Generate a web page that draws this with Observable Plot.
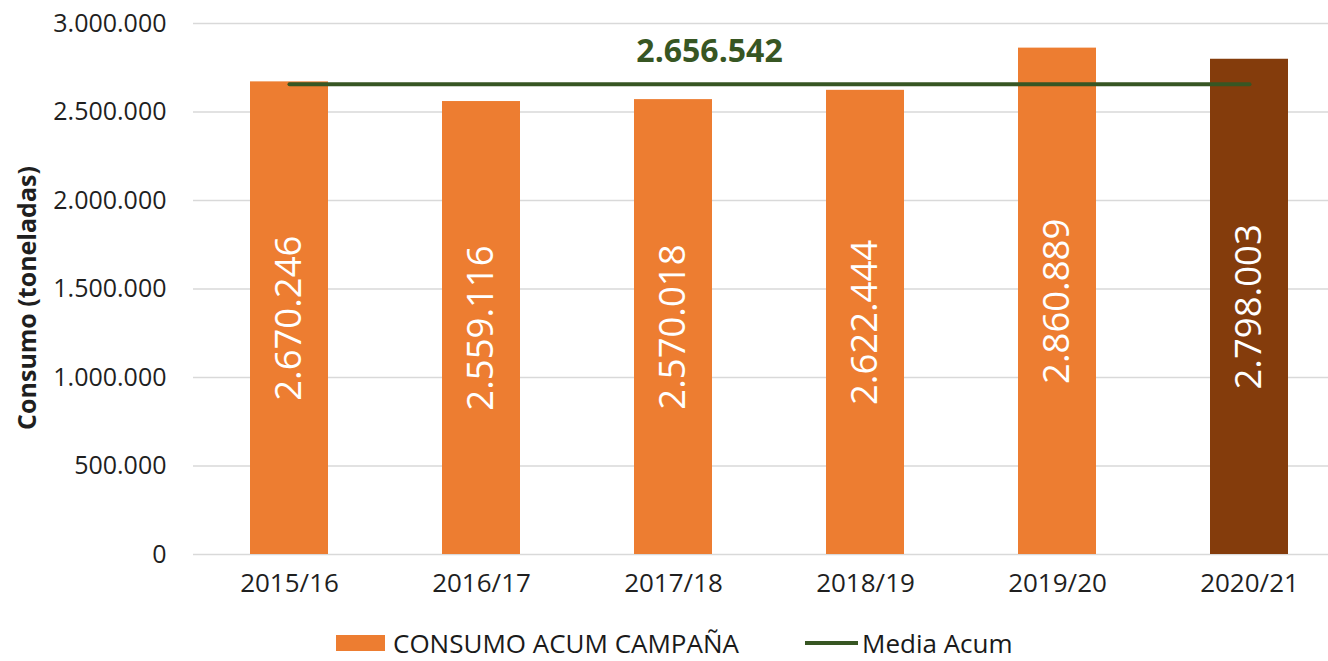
<!DOCTYPE html>
<html>
<head>
<meta charset="utf-8">
<script src="https://cdn.jsdelivr.net/npm/d3@7"></script>
<script src="https://cdn.jsdelivr.net/npm/@observablehq/plot@0.6"></script>
<style>
  html, body { margin: 0; padding: 0; background: #fff; width: 1328px; }
  #chart { position: relative; width: 1328px; overflow: hidden; }
  #chart svg { display: block; max-width: none !important; }
  #legend { position: relative; height: 46px; font-family: "Open Sans", sans-serif; font-size: 26px; line-height: 26px; color: #1a1a1a; }
  .li { position: absolute; display: flex; align-items: center; top: 15px; height: 26px; white-space: nowrap; }
</style>
</head>
<body>
<div id="chart"></div>
<div id="legend"></div>
<script>
const categories = ["2015/16", "2016/17", "2017/18", "2018/19", "2019/20", "2020/21"];
const consumo = [2670246, 2559116, 2570018, 2622444, 2860889, 2798003];
const media = 2656542;
const yTicks = [0, 500000, 1000000, 1500000, 2000000, 2500000, 3000000];
const seriesNames = ["CONSUMO ACUM CAMPAÑA", "Media Acum"];
const barColor = "#ED7D31";
const lastBarColor = "#843C0C";
const lineColor = "#375623";

const loc = d3.formatLocale({decimal: ",", thousands: ".", grouping: [3], currency: ["", "€"]});
const fmt = loc.format(",d");

const data = categories.map((c, i) => ({cat: c, v: consumo[i], last: i === categories.length - 1}));
const mediaData = categories.map(c => ({cat: c, v: media}));

const chart = Plot.plot({
  width: 1345,
  height: 615,
  marginLeft: 193,
  marginRight: 0,
  marginTop: 23,
  marginBottom: 61,
  style: {fontFamily: "Open Sans, sans-serif", fontSize: "25px", color: "#1f1f1f", background: "#fff"},
  x: {domain: categories, paddingInner: 0.594, paddingOuter: 0.297, label: null, tickSize: 0, tickPadding: 19},
  y: {domain: [0, 3000000], ticks: yTicks, tickFormat: d => fmt(d), tickSize: 0, tickPadding: 27,
      label: "Consumo (toneladas)", labelAnchor: "center", labelOffset: 175, labelArrow: "none"},
  marks: [
    Plot.gridY(yTicks, {stroke: "#d9d9d9", strokeOpacity: 1, strokeWidth: 1.5}),
    Plot.barY(data, {x: "cat", y: "v", fill: d => d.last ? lastBarColor : barColor}),
    Plot.text(data, {x: "cat", y: d => d.v / 2, text: d => fmt(d.v), rotate: -90, fill: "white", fontSize: 36.5}),
    Plot.lineY(mediaData, {x: "cat", y: "v", stroke: lineColor, strokeWidth: 4}),
    Plot.text([media], {x: () => categories[2], y: d => d, text: d => fmt(d), dx: 36, dy: -33, fill: lineColor, fontWeight: "bold", fontSize: 32})
  ]
});
document.getElementById("chart").appendChild(chart);

chart.querySelectorAll("[aria-label='y-axis label']").forEach(g => {
  g.style.fontWeight = "bold";
  g.style.fontSize = "25px";
  const tr = g.getAttribute("transform") || "";
  g.setAttribute("transform", (tr + " translate(0,9)").trim());
  g.querySelectorAll("text").forEach(t => { t.style.fontWeight = "bold"; t.style.fontSize = "25px"; });
});
chart.querySelectorAll("[aria-label='x-axis tick label']").forEach(g => {
  g.style.fontSize = "26px";
  g.querySelectorAll("text").forEach(t => { t.style.fontSize = "26px"; });
});

const legend = document.getElementById("legend");
legend.innerHTML = `
  <div class="li" style="left:336px;"><span style="display:inline-block;width:49px;height:16px;background:${barColor};margin-right:8px"></span>${seriesNames[0]}</div>
  <div class="li" style="left:805px;"><span style="display:inline-block;width:53px;height:4px;background:${lineColor};margin-right:4px"></span>${seriesNames[1]}</div>
`;
</script>
</body>
</html>
